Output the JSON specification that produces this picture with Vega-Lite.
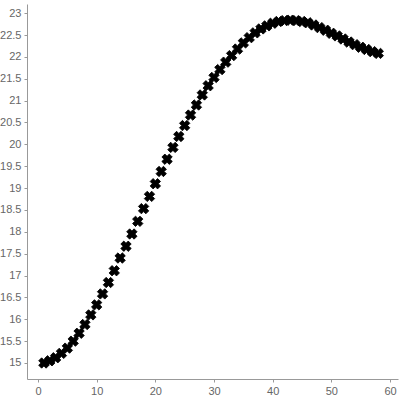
{
  "$schema": "https://vega.github.io/schema/vega-lite/v6.json",
  "autosize": "none",
  "padding": {"left": 27, "top": 4, "right": 2, "bottom": 21},
  "width": 371,
  "height": 375,
  "background": "white",
  "config": {
    "view": {"stroke": null},
    "axis": {
      "grid": false,
      "domainColor": "#999999",
      "tickColor": "#999999",
      "tickSize": 3,
      "labelColor": "#666666",
      "labelFont": "Liberation Sans",
      "labelFontSize": 11,
      "labelPadding": 3,
      "title": null
    }
  },
  "data": {
    "values": [
      {"x": 1, "y": 15.00}, {"x": 2, "y": 15.05}, {"x": 3, "y": 15.12}, {"x": 4, "y": 15.22},
      {"x": 5, "y": 15.34}, {"x": 6, "y": 15.50}, {"x": 7, "y": 15.68}, {"x": 8, "y": 15.88},
      {"x": 9, "y": 16.10}, {"x": 10, "y": 16.33}, {"x": 11, "y": 16.58}, {"x": 12, "y": 16.84},
      {"x": 13, "y": 17.11}, {"x": 14, "y": 17.40}, {"x": 15, "y": 17.67}, {"x": 16, "y": 17.95},
      {"x": 17, "y": 18.24}, {"x": 18, "y": 18.53}, {"x": 19, "y": 18.81}, {"x": 20, "y": 19.10},
      {"x": 21, "y": 19.38}, {"x": 22, "y": 19.66}, {"x": 23, "y": 19.93}, {"x": 24, "y": 20.18},
      {"x": 25, "y": 20.43}, {"x": 26, "y": 20.67}, {"x": 27, "y": 20.90}, {"x": 28, "y": 21.13},
      {"x": 29, "y": 21.34}, {"x": 30, "y": 21.53}, {"x": 31, "y": 21.71}, {"x": 32, "y": 21.88},
      {"x": 33, "y": 22.03}, {"x": 34, "y": 22.18}, {"x": 35, "y": 22.32}, {"x": 36, "y": 22.44},
      {"x": 37, "y": 22.55}, {"x": 38, "y": 22.64}, {"x": 39, "y": 22.71}, {"x": 40, "y": 22.77},
      {"x": 41, "y": 22.81}, {"x": 42, "y": 22.83}, {"x": 43, "y": 22.84}, {"x": 44, "y": 22.83},
      {"x": 45, "y": 22.81}, {"x": 46, "y": 22.78}, {"x": 47, "y": 22.73}, {"x": 48, "y": 22.67},
      {"x": 49, "y": 22.61}, {"x": 50, "y": 22.54}, {"x": 51, "y": 22.48}, {"x": 52, "y": 22.41},
      {"x": 53, "y": 22.34}, {"x": 54, "y": 22.28}, {"x": 55, "y": 22.22}, {"x": 56, "y": 22.17},
      {"x": 57, "y": 22.12}, {"x": 58, "y": 22.08}
    ]
  },
  "mark": {"type": "point", "shape": "cross", "angle": 45, "filled": true, "size": 110, "color": "black", "opacity": 1, "stroke": "black", "strokeWidth": 0.8},
  "encoding": {
    "x": {
      "field": "x", "type": "quantitative",
      "scale": {"domain": [-1.875, 61.36], "nice": false, "zero": false},
      "axis": {"values": [0, 10, 20, 30, 40, 50, 60], "format": "d"}
    },
    "y": {
      "field": "y", "type": "quantitative",
      "scale": {"domain": [14.634, 23.21], "nice": false, "zero": false},
      "axis": {"values": [15, 15.5, 16, 16.5, 17, 17.5, 18, 18.5, 19, 19.5, 20, 20.5, 21, 21.5, 22, 22.5, 23], "format": "~g"}
    }
  }
}
